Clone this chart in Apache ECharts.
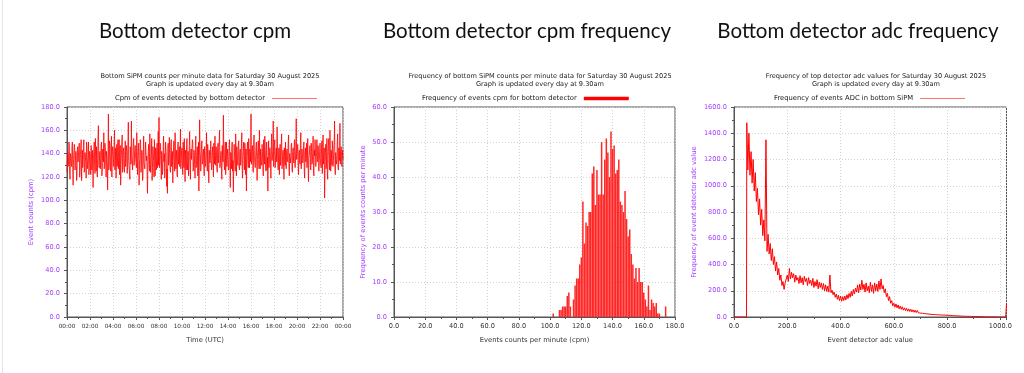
<!DOCTYPE html>
<html>
<head>
<meta charset="utf-8">
<script src="https://cdn.jsdelivr.net/npm/echarts@6/dist/echarts.min.js"></script>
<style>
html,body{margin:0;padding:0;background:#fff;}
#c{width:1024px;height:373px;}
</style>
</head>
<body>
<div id="c"></div>
<script>
// ---------- Panel 1: cpm over the day (one value every 2 minutes, one row per hour) ----------
const cpmStepMinutes = 2;
const cpmValues = [
124,138,141,129,133,150,147,122,118,140,138,131,129,146,150,127,113,135,136,148,145,126,127,142,139,117,121,144,146,133,
132,145,149,120,125,139,140,152,117,130,143,128,135,147,152,124,128,141,137,133,119,150,144,127,131,138,150,122,126,142,
139,131,122,147,148,126,134,143,111,136,141,150,130,123,153,137,125,146,145,120,136,155,164,132,128,140,142,127,133,148,
150,121,127,144,139,133,158,127,131,149,144,136,120,142,136,128,109,140,174,126,132,151,147,130,125,143,155,120,138,146,
143,135,129,149,160,126,134,145,119,137,148,129,137,152,127,135,152,122,141,147,113,131,139,150,156,124,130,143,145,128,
124,140,151,129,136,147,142,123,128,150,167,134,133,124,118,146,145,131,168,140,139,126,125,149,153,130,131,144,147,136,
137,128,158,141,122,135,144,149,113,130,136,152,150,124,129,143,141,117,119,139,155,132,133,127,126,150,149,134,138,125,
106,133,142,148,131,125,157,140,124,131,139,153,117,128,146,141,134,120,152,137,121,145,143,126,137,149,128,135,159,130,
171,128,132,149,147,135,118,142,138,122,126,147,155,133,140,119,129,150,145,136,112,127,106,143,149,130,133,154,141,126,
124,147,152,129,137,142,115,134,146,151,131,125,158,140,127,135,143,122,120,148,150,131,136,146,129,138,161,127,134,143,
145,131,122,150,139,128,153,137,116,143,137,126,148,153,126,133,142,121,131,147,159,129,118,141,144,135,135,152,150,125,
128,143,141,130,119,147,155,128,134,139,146,121,123,150,108,133,169,142,138,125,126,148,151,131,133,140,144,127,121,146,
147,129,132,141,158,136,125,148,139,127,115,143,143,132,137,151,152,126,128,140,146,134,120,149,141,131,155,138,130,146,
138,127,124,145,149,132,133,150,160,128,127,139,142,124,118,147,136,133,173,141,131,126,145,150,122,138,150,129,137,144,
143,126,128,147,152,133,111,141,139,127,146,150,125,134,107,129,148,139,133,125,157,141,121,146,140,132,130,149,151,128,
126,141,144,130,135,149,158,127,119,138,142,150,131,126,149,139,122,144,108,131,145,150,137,128,153,139,128,144,140,133,
174,131,133,145,147,126,124,150,156,137,138,128,129,146,150,132,117,141,143,151,135,127,160,139,127,144,145,130,132,148,
148,129,121,152,139,131,155,143,130,125,144,150,126,137,108,141,151,128,137,145,142,131,119,147,157,134,134,142,168,129,
136,147,152,128,128,141,145,133,163,149,131,126,140,145,122,139,148,130,135,150,157,127,126,141,143,132,118,145,139,130,
150,131,127,142,144,135,133,149,156,129,121,140,141,132,138,147,149,127,124,142,145,134,132,150,152,128,129,143,170,135,
135,146,148,129,122,140,143,133,131,150,158,127,126,144,140,132,134,146,150,125,119,141,145,133,137,149,128,136,153,130,
116,137,139,145,147,128,126,149,144,131,133,140,155,126,121,143,138,152,146,129,129,141,152,133,135,147,142,125,124,140,
149,136,130,128,145,151,123,140,156,131,136,145,102,127,141,148,127,133,153,124,118,140,147,153,132,126,160,137,125,143,
138,130,151,144,129,134,144,150,168,127,122,141,140,131,135,149,157,128,126,145,146,134,166,131,131,146,142,129,137,143,
135
];
const timeTickLabels = ['00:00','02:00','04:00','06:00','08:00','10:00','12:00','14:00','16:00','18:00','20:00','22:00','00:00'];

// ---------- Panel 2: histogram of cpm ----------
const cpmBins = [102,106,107,108,109,110,111,112,113,115,116,117,118,119,120,121,122,123,124,125,126,127,128,129,130,131,132,133,134,135,136,137,138,139,140,141,142,143,144,145,146,147,148,149,150,151,152,153,154,155,156,157,158,159,160,161,162,163,164,165,166,167,168,169,170,174];
const cpmCounts = [1,2,2,3,3,3,6,7,3,5,9,11,11,15,17,33,21,27,26,30,30,41,43,32,42,35,35,50,35,45,51,47,40,53,48,49,41,42,45,33,32,30,36,28,23,25,18,15,11,14,10,14,10,10,7,5,3,9,2,5,4,3,4,1,1,3];

// ---------- Panel 3: ADC value frequency (values every 4 ADC units from 48) ----------
const adcStart = 48;
const adcStep = 4;
const adcFreq = [
1480,1120,1400,1080,1260,1020,1200,960,1100,880,
980,780,900,700,820,620,740,580,1350,500,
630,480,560,430,520,400,460,350,420,320,
370,280,320,240,270,210,260,250,320,270,
370,290,340,300,330,265,320,280,300,255,
315,260,300,245,310,270,295,240,300,255,
280,240,295,225,270,235,285,215,265,225,
260,210,255,200,245,195,235,190,320,185,
205,170,190,150,175,135,165,125,160,120,
155,125,160,130,170,140,180,150,195,160,
210,175,220,190,245,185,250,205,280,210,
250,190,260,200,235,185,265,195,245,180,
260,200,250,195,275,210,290,215,240,185,
215,155,180,125,155,105,125,85,105,75,
100,70,92,62,84,58,78,52,70,48,
66,44,62,42,58,39,55,36,52,34,
50,32,47,30,45,28,42,26,40,24,
37,22,35,20,33,19,31,18,30,17,
29,16,28,15,27,15,26,14,25,13,
23,12,21,11,20,10,18,9,17,8,
15,7,14,6,13,6,12,5,11,5,
10,4,9,4,8,3,8,3,7,3,
6,2,6,2,5,2,5,1,4,1,
4,1,3,1,3,0,3,0,2,0,
2,0,2,0
];
const adcLeadIn = [[0,0],[47,0]];
const adcTail = [[1022,0],[1023,105]];

// ---------- text ----------
const pageTitles = ['Bottom detector cpm','Bottom detector cpm frequency','Bottom detector adc frequency'];
const chartSubtitles = [
  'Bottom SiPM counts per minute data for Saturday 30 August 2025\nGraph is updated every day at 9.30am',
  'Frequency of bottom SiPM counts per minute data for Saturday 30 August 2025\nGraph is updated every day at 9.30am',
  'Frequency of top detector adc values for Saturday 30 August 2025\nGraph is updated every day at 9.30am'
];
const seriesNames = ['Cpm of events detected by bottom detector','Frequency of events cpm for bottom detector','Frequency of events ADC in bottom SiPM'];
const xNames = ['Time (UTC)','Events counts per minute (cpm)','Event detector adc value'];
const yNames = ['Event counts (cpm)','Frequency of events counts per minute','Frequency of event detector adc value'];

// ---------- build ----------
const cpmSeries = cpmValues.map((v,i)=>[i*cpmStepMinutes, v]);
const histSeries = cpmBins.map((b,i)=>[b, cpmCounts[i]]);
const adcSeries = adcLeadIn.concat(adcFreq.map((v,i)=>[adcStart + i*adcStep, v]), adcTail);

const PURPLE = '#a23cff';
const AX = '#555';
const FONT = 'DejaVu Sans';
const gridDefs = [
  {left:67, top:107, width:276, height:210},
  {left:394, top:107, width:281, height:210},
  {left:734, top:107, width:272.5, height:210}
];
const titleCenters = [190, 522, 853];
const subCenters = [205, 535, 871];
const legendLefts = [115, 422, 774];

function fx(v){ return v.toFixed(1); }

const chart = echarts.init(document.getElementById('c'), null, {renderer:'canvas'});
const splitLine = {show:true, lineStyle:{color:'#d2d2d2', type:[1,2], width:1}};
function xAxisDef(i, opts){
  return Object.assign({
    type:'value', gridIndex:i,
    axisLine:{show:true, onZero:false, lineStyle:{color:AX, width:1}},
    axisTick:{show:true, length:3, lineStyle:{color:AX}},
    minorTick:{show:true, splitNumber:2, length:2, lineStyle:{color:AX}},
    splitLine: splitLine,
    axisLabel:{color:'#333', fontFamily:FONT, fontSize:6.5, margin:6, showMinLabel:true, showMaxLabel:true},
    name:xNames[i], nameLocation:'middle', nameGap:20,
    nameTextStyle:{color:'#333', fontFamily:FONT, fontSize:6.8}
  }, opts);
}
function yAxisDef(i, opts, gap){
  return Object.assign({
    type:'value', gridIndex:i,
    axisLine:{show:true, onZero:false, lineStyle:{color:AX, width:1}},
    axisTick:{show:true, length:3, lineStyle:{color:AX}},
    minorTick:{show:true, splitNumber:2, length:2, lineStyle:{color:AX}},
    splitLine: splitLine,
    axisLabel:{color:PURPLE, fontFamily:FONT, fontSize:6.6, margin:7, formatter:fx},
    name:yNames[i], nameLocation:'middle', nameGap:gap, nameRotate:90,
    nameTextStyle:{color:PURPLE, fontFamily:FONT, fontSize:6.8}
  }, opts);
}

const option = {
  animation:false,
  backgroundColor:'#fff',
  graphic:[{type:'rect', shape:{x:2, y:0, width:1, height:373}, style:{fill:'#e4e4e4'}, silent:true}],
  title: pageTitles.map((t,i)=>({
    text:t, left:titleCenters[i], top:16, textAlign:'center',
    textStyle:{fontFamily:'Lato', fontSize:20.5, fontWeight:'normal', color:'#111'}
  })).concat(chartSubtitles.map((t,i)=>({
    text:t, left:subCenters[i], top:67, textAlign:'center',
    textStyle:{fontFamily:FONT, fontSize:6.6, lineHeight:8, fontWeight:'normal', color:'#1a1a1a'}
  }))),
  legend: seriesNames.map((n,i)=>({
    data:[{name:n, icon:'rect', itemStyle:{color: i===1 ? '#ff0000' : '#ff7070'}}],
    left:legendLefts[i], top:95, align:'right', orient:'horizontal',
    itemWidth:45, itemHeight: i===1 ? 3.5 : 1,
    selectedMode:false,
    textStyle:{fontFamily:FONT, fontSize:6.8, color:'#1a1a1a', padding:[0,2,0,0]},
    padding:0
  })),
  grid: gridDefs.map(g=>Object.assign({show:true, borderColor:AX, borderWidth:1, backgroundColor:'transparent', containLabel:false}, g)),
  xAxis:[
    xAxisDef(0, {min:0, max:1440, interval:120,
      axisLabel:{color:'#333', fontFamily:FONT, fontSize:5.8, margin:6, formatter:(v)=>timeTickLabels[Math.round(v/120)]}}),
    xAxisDef(1, {min:0, max:180, interval:20, axisLabel:{color:'#333', fontFamily:FONT, fontSize:6.6, margin:6, formatter:fx}}),
    xAxisDef(2, {min:0, max:1023, interval:200, axisLabel:{color:'#333', fontFamily:FONT, fontSize:6.6, margin:6, formatter:fx, showMaxLabel:false}})
  ],
  yAxis:[
    yAxisDef(0, {min:0, max:180, interval:20}, 32),
    yAxisDef(1, {min:0, max:60, interval:10}, 27),
    yAxisDef(2, {min:0, max:1600, interval:200}, 36)
  ],
  series:[
    {name:seriesNames[0], type:'line', xAxisIndex:0, yAxisIndex:0, data:cpmSeries,
     showSymbol:false, symbol:'none', lineStyle:{color:'#ff0000', width:0.8}, itemStyle:{color:'#ff0000'}},
    {name:seriesNames[1], type:'bar', xAxisIndex:1, yAxisIndex:1, data:histSeries,
     barWidth:1.5, itemStyle:{color:'#ff2626'}},
    {name:seriesNames[2], type:'line', xAxisIndex:2, yAxisIndex:2, data:adcSeries,
     showSymbol:false, symbol:'none', lineStyle:{color:'#ff0000', width:1}, itemStyle:{color:'#ff0000'}}
  ]
};
chart.setOption(option);
</script>
</body>
</html>
